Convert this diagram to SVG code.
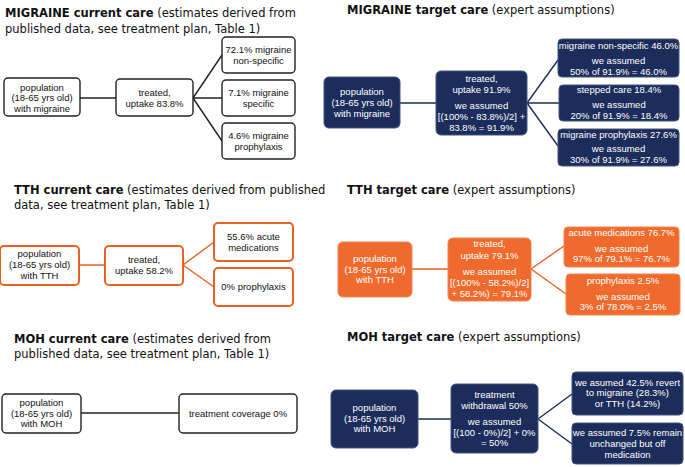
<svg xmlns="http://www.w3.org/2000/svg" width="685" height="467" viewBox="0 0 685 467">
<style>
.t{font-family:"DejaVu Sans","Verdana",sans-serif;font-size:11.5px;fill:#111}
.t .b{font-weight:bold}
.bx{font-family:"Liberation Sans",Arial,sans-serif;font-size:9.5px;text-anchor:middle}
.cur rect{fill:#fff;stroke:#222;stroke-width:1.4}
.cur text{fill:#111}
.nav rect{fill:#1c2c5b;stroke:#44557f;stroke-width:1}
.nav text{fill:#fff}
.org rect{fill:#fff;stroke:#e8621f;stroke-width:2}
.org text{fill:#111}
.orf rect{fill:#ef6a2c;stroke:#f38450;stroke-width:1}
.orf text{fill:#fff}
.lk{stroke:#222;stroke-width:1.4;fill:none}
.ln{stroke:#1c2c5b;stroke-width:1.4;fill:none}
.lo{stroke:#e8621f;stroke-width:1.4;fill:none}
</style>

<!-- titles -->
<g id="titles">
<text class="t" x="5" y="17"><tspan class="b">MIGRAINE current care</tspan> (estimates derived from</text>
<text class="t" x="5" y="33">published data, see treatment plan, Table 1)</text>
<text class="t" x="347" y="14"><tspan class="b">MIGRAINE target care</tspan> (expert assumptions)</text>
<text class="t" x="14" y="194"><tspan class="b">TTH current care</tspan> (estimates derived from published</text>
<text class="t" x="14" y="209">data, see treatment plan, Table 1)</text>
<text class="t" x="347" y="194"><tspan class="b">TTH target care</tspan> (expert assumptions)</text>
<text class="t" x="14" y="343"><tspan class="b">MOH current care</tspan> (estimates derived from</text>
<text class="t" x="14" y="358">published data, see treatment plan, Table 1)</text>
<text class="t" x="347" y="341"><tspan class="b">MOH target care</tspan> (expert assumptions)</text>
</g>

<!-- connectors -->
<g id="connectors">
<path class="lk" d="M80 98H116 M193 98L222 55 M193 98H222 M193 98L222 141"/>
<path class="ln" d="M400 103H436 M527 103L558 60 M527 103H559 M527 103L558 146"/>
<path class="lo" d="M79 265H105 M183 265L214 242 M183 265L214 287"/>
<path class="lo" d="M412 269H448 M531 269L564 246 M531 269L566 294"/>
<path class="lk" d="M81 413H179"/>
<path class="ln" d="M418 419H451 M538 419L572 394 M538 419L572 444"/>
</g>

<!-- MIGRAINE current -->
<g id="mc-pop" class="cur bx"><rect x="4" y="78" width="76" height="38" rx="4"/>
<text x="42" y="90.5">population</text><text x="42" y="101">(18-65 yrs old)</text><text x="42" y="111.5">with migraine</text></g>
<g id="mc-treated" class="cur bx"><rect x="116" y="79" width="77" height="37" rx="4"/>
<text x="154.5" y="96">treated,</text><text x="154.5" y="107">uptake 83.8%</text></g>
<g id="mc-nonspec" class="cur bx"><rect x="222" y="37" width="73" height="36" rx="4"/>
<text x="258.5" y="53">72.1% migraine</text><text x="258.5" y="64">non-specific</text></g>
<g id="mc-spec" class="cur bx"><rect x="222" y="80" width="73" height="36" rx="4"/>
<text x="258.5" y="96">7.1% migraine</text><text x="258.5" y="107">specific</text></g>
<g id="mc-proph" class="cur bx"><rect x="222" y="123" width="73" height="36" rx="4"/>
<text x="258.5" y="139">4.6% migraine</text><text x="258.5" y="150">prophylaxis</text></g>

<!-- MIGRAINE target -->
<g id="mt-pop" class="nav bx"><rect x="324" y="77" width="76" height="51" rx="5"/>
<text x="362" y="95">population</text><text x="362" y="106">(18-65 yrs old)</text><text x="362" y="117">with migraine</text></g>
<g id="mt-treated" class="nav bx"><rect x="436" y="71" width="91" height="64" rx="5"/>
<text x="481.5" y="82">treated,</text><text x="481.5" y="93">uptake 91.9%</text><text x="481.5" y="109">we assumed</text><text x="481.5" y="120">[(100% - 83.8%)/2] +</text><text x="481.5" y="131">83.8% = 91.9%</text></g>
<g id="mt-nonspec" class="nav bx"><rect x="558" y="39" width="121" height="38" rx="4"/>
<text x="618.5" y="49">migraine non-specific 46.0%</text><text x="618.5" y="64">we assumed</text><text x="618.5" y="75">50% of 91.9% = 46.0%</text></g>
<g id="mt-stepped" class="nav bx"><rect x="559" y="85" width="120" height="36" rx="4"/>
<text x="619" y="93">stepped care 18.4%</text><text x="619" y="108">we assumed</text><text x="619" y="119">20% of 91.9% = 18.4%</text></g>
<g id="mt-proph" class="nav bx"><rect x="558" y="129" width="121" height="37" rx="4"/>
<text x="618.5" y="138">migraine prophylaxis 27.6%</text><text x="618.5" y="152">we assumed</text><text x="618.5" y="163">30% of 91.9% = 27.6%</text></g>

<!-- TTH current -->
<g id="tc-pop" class="org bx"><rect x="0" y="246" width="79" height="39" rx="4"/>
<text x="39.5" y="257">population</text><text x="39.5" y="268">(18-65 yrs old)</text><text x="39.5" y="279">with TTH</text></g>
<g id="tc-treated" class="org bx"><rect x="105" y="246" width="78" height="39" rx="4"/>
<text x="144" y="263">treated,</text><text x="144" y="274">uptake 58.2%</text></g>
<g id="tc-acute" class="org bx"><rect x="214" y="223" width="79" height="38" rx="4"/>
<text x="253.5" y="240">55.6% acute</text><text x="253.5" y="251">medications</text></g>
<g id="tc-proph" class="org bx"><rect x="214" y="268" width="79" height="38" rx="4"/>
<text x="253.5" y="290">0% prophylaxis</text></g>

<!-- TTH target -->
<g id="tt-pop" class="orf bx"><rect x="338" y="242" width="74" height="55" rx="5"/>
<text x="375" y="262">population</text><text x="375" y="273">(18-65 yrs old)</text><text x="375" y="283">with TTH</text></g>
<g id="tt-treated" class="orf bx"><rect x="448" y="238" width="83" height="63" rx="5"/>
<text x="489.5" y="247">treated,</text><text x="489.5" y="259">uptake 79.1%</text><text x="489.5" y="275">we assumed</text><text x="489.5" y="286">[(100% - 58.2%)/2]</text><text x="489.5" y="297">+ 58.2%) = 79.1%</text></g>
<g id="tt-acute" class="orf bx"><rect x="564" y="227" width="115" height="40" rx="4"/>
<text x="621.5" y="236">acute medications 76.7%</text><text x="621.5" y="252">we assumed</text><text x="621.5" y="262">97% of 79.1% = 76.7%</text></g>
<g id="tt-proph" class="orf bx"><rect x="566" y="274" width="114" height="41" rx="4"/>
<text x="623" y="284">prophylaxis 2.5%</text><text x="623" y="300">we assumed</text><text x="623" y="310">3% of 78.0% =  2.5%</text></g>

<!-- MOH current -->
<g id="hc-pop" class="cur bx"><rect x="2" y="394" width="79" height="39" rx="4"/>
<text x="41.5" y="406">population</text><text x="41.5" y="416.5">(18-65 yrs old)</text><text x="41.5" y="427">with MOH</text></g>
<g id="hc-cov" class="cur bx"><rect x="179" y="394" width="118" height="39" rx="4"/>
<text x="238" y="416.5">treatment coverage 0%</text></g>

<!-- MOH target -->
<g id="ht-pop" class="nav bx"><rect x="331" y="390" width="87" height="58" rx="5"/>
<text x="374.5" y="411">population</text><text x="374.5" y="422">(18-65 yrs old)</text><text x="374.5" y="432">with MOH</text></g>
<g id="ht-treat" class="nav bx"><rect x="451" y="384" width="87" height="69" rx="5"/>
<text x="494.5" y="398">treatment</text><text x="494.5" y="409">withdrawal 50%</text><text x="494.5" y="425">we assumed</text><text x="494.5" y="436">[(100 - 0%)/2] + 0%</text><text x="494.5" y="446">= 50%</text></g>
<g id="ht-revert" class="nav bx"><rect x="572" y="372" width="111" height="43" rx="4"/>
<text x="627.5" y="386">we asumed 42.5% revert</text><text x="627.5" y="396">to migraine (28.3%)</text><text x="627.5" y="407">or TTH (14.2%)</text></g>
<g id="ht-remain" class="nav bx"><rect x="572" y="423" width="111" height="41" rx="4"/>
<text x="627.5" y="436">we assumed 7.5% remain</text><text x="627.5" y="447">unchanged but off</text><text x="627.5" y="458">medication</text></g>
</svg>
